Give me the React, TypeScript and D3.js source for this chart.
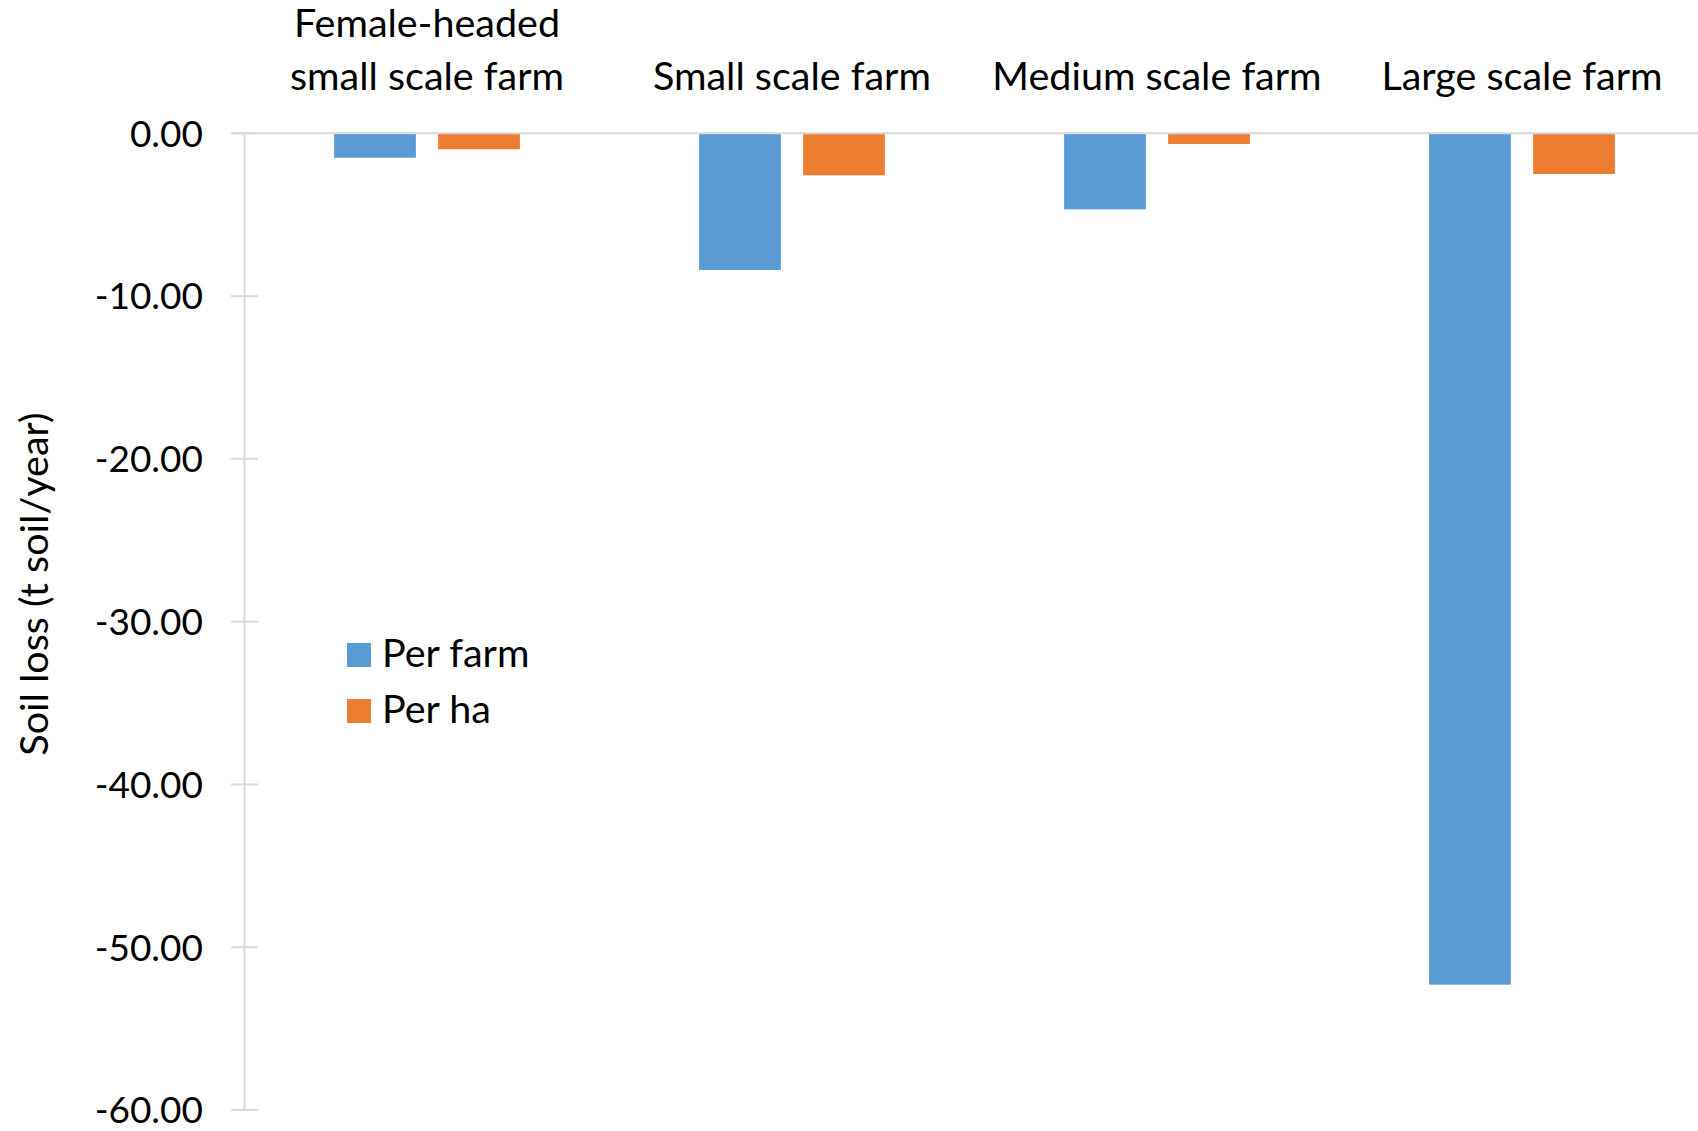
import * as d3 from "d3";
import { useEffect, useRef } from "react";

// waarden (t soil/year)
const categories = [
  "Female-headed\nsmall scale farm",
  "Small scale farm",
  "Medium scale farm",
  "Large scale farm",
];
const seriesNames = ["Per farm", "Per ha"];
const perFarm = [-1.5, -8.4, -4.67, -52.3];
const perHa = [-0.98, -2.58, -0.66, -2.5];
const yTicks = [0, -10, -20, -30, -40, -50, -60];

const colors = ["#5B9BD5", "#ED7D31"];
const font = "Lato, 'Open Sans', sans-serif";

export default function App() {
  const ref = useRef<SVGSVGElement>(null);

  useEffect(() => {
    document.body.style.margin = "0";
    const width = 1698;
    const height = 1131;

    const svg = d3.select(ref.current).attr("width", width).attr("height", height);
    svg.selectAll("*").remove();

    const x0 = d3.scaleBand<string>().domain(categories).range([244.5, 1704.5]);
    const bw = x0.bandwidth();
    const x1 = d3.scaleBand<string>()
      .domain(seriesNames)
      .range([bw * 0.2455, bw * 0.7545])
      .paddingInner(0.214);
    const y = d3.scaleLinear().domain([-60, 0]).range([1110, 133.3]);

    const data = categories.map((c, i) => ({ cat: c, values: [perFarm[i], perHa[i]] }));

    // as
    const fmt = (d: number) => d3.format(".2f")(d).replace("\u2212", "-");
    const yAxis = svg.append("g");
    yAxis.append("line")
      .attr("x1", 244.5).attr("x2", 244.5)
      .attr("y1", y(0)).attr("y2", y(-60))
      .attr("stroke", "#d9d9d9").attr("stroke-width", 2);
    yAxis.selectAll(".tick").data(yTicks).enter().append("line")
      .attr("x1", 231).attr("x2", 258)
      .attr("y1", d => y(d)).attr("y2", d => y(d))
      .attr("stroke", "#d9d9d9").attr("stroke-width", 2);
    yAxis.selectAll(".lbl").data(yTicks).enter().append("text")
      .attr("x", 203)
      .attr("y", d => y(d))
      .attr("dy", "0.36em")
      .attr("text-anchor", "end")
      .style("font-family", font)
      .style("font-size", "37px")
      .text(d => fmt(d));

    // balken
    const groups = svg.selectAll(".grp").data(data).enter().append("g")
      .attr("transform", d => `translate(${x0(d.cat)},0)`);
    groups.selectAll("rect")
      .data(d => d.values.map((v, i) => ({ name: seriesNames[i], v, i })))
      .enter().append("rect")
      .attr("x", d => x1(d.name) as number)
      .attr("width", x1.bandwidth())
      .attr("y", y(0))
      .attr("height", d => y(d.v) - y(0))
      .attr("fill", d => colors[d.i]);

    // nullijn
    svg.append("line")
      .attr("x1", 231).attr("x2", width)
      .attr("y1", y(0)).attr("y2", y(0))
      .attr("stroke", "#d9d9d9").attr("stroke-width", 2);

    // categorie labels bovenaan
    categories.forEach(c => {
      const lines = c.split("\n");
      const t = svg.append("text")
        .attr("text-anchor", "middle")
        .style("font-family", font)
        .style("font-size", "39.5px");
      lines.forEach((l, j) => {
        t.append("tspan")
          .attr("x", (x0(c) as number) + bw / 2)
          .attr("y", 90 - (lines.length - 1 - j) * 53)
          .text(l);
      });
    });

    // y titel
    svg.append("text")
      .attr("transform", "translate(48,584) rotate(-90)")
      .attr("text-anchor", "middle")
      .style("font-family", font)
      .style("font-size", "39.5px")
      .text("Soil loss (t soil/year)");

    // legenda
    const legend = svg.append("g");
    seriesNames.forEach((s, i) => {
      legend.append("rect")
        .attr("x", 347).attr("y", 643 + i * 56)
        .attr("width", 24).attr("height", 24)
        .attr("fill", colors[i]);
      legend.append("text")
        .attr("x", 382).attr("y", 667 + i * 56)
        .style("font-family", font)
        .style("font-size", "39.5px")
        .text(s);
    });
  }, []);

  return <svg ref={ref}></svg>;
}
